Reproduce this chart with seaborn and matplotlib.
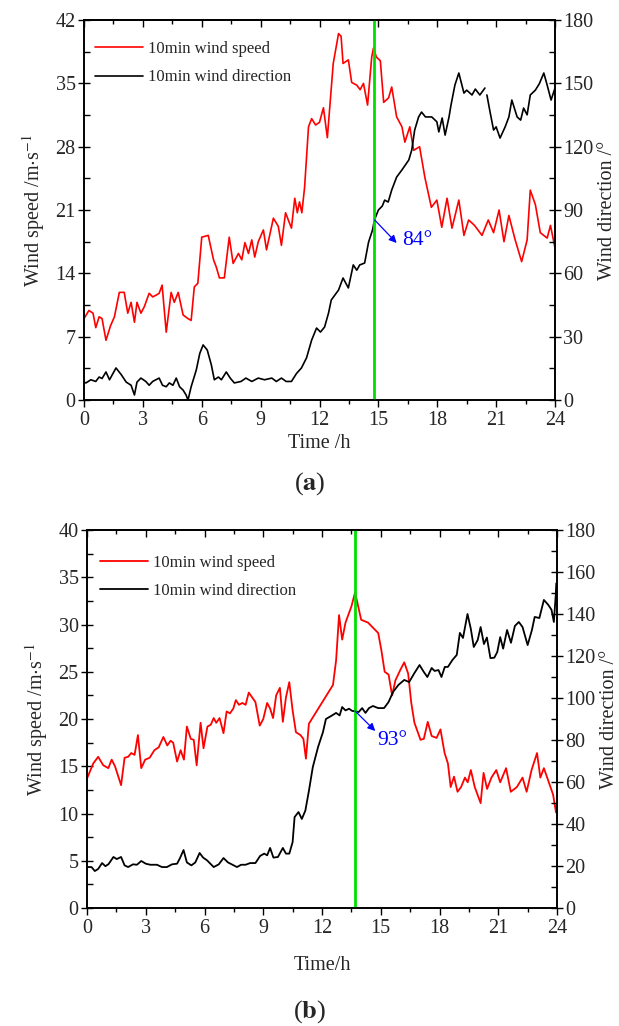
import numpy as np
import pandas as pd
import seaborn as sns
import matplotlib.pyplot as plt
from matplotlib.ticker import MultipleLocator

sns.set_theme(style="white")
plt.rcParams['font.family'] = ['Liberation Serif', 'DejaVu Serif']
plt.rcParams['mathtext.fontset'] = 'stix'

# ---- panel (a): 10 min wind speed / direction ----
a_speed_t = [0.0, 0.25, 0.46, 0.6, 0.77, 0.92, 1.12, 1.35, 1.55, 1.8, 2.05, 2.23, 2.4, 2.57, 2.7, 2.9,
             3.07, 3.32, 3.5, 3.68, 3.83, 3.98, 4.19, 4.44, 4.6, 4.8, 5.05, 5.3, 5.46, 5.62, 5.8, 6.0,
             6.33, 6.6, 6.74, 6.9, 7.15, 7.4, 7.6, 7.87, 8.04, 8.2, 8.38, 8.55, 8.7, 8.88, 9.14, 9.3,
             9.65, 9.9, 10.06, 10.27, 10.57, 10.74, 10.87, 10.98, 11.1, 11.24, 11.44, 11.6, 11.8, 12.0,
             12.2, 12.4, 12.7, 12.97, 13.1, 13.2, 13.47, 13.64, 13.9, 14.07, 14.24, 14.45, 14.66, 14.75,
             14.9, 15.1, 15.27, 15.52, 15.68, 15.93, 16.2, 16.35, 16.6, 16.8, 17.1, 17.37, 17.7, 17.98,
             18.23, 18.5, 18.75, 19.1, 19.36, 19.6, 19.9, 20.28, 20.6, 20.87, 21.15, 21.4, 21.65, 21.97,
             22.3, 22.58, 22.74, 23.0, 23.25, 23.6, 23.77, 24.0]
a_speed_v = [9.0, 9.9, 9.6, 8.0, 9.2, 9.0, 6.6, 8.2, 9.2, 11.9, 11.9, 9.6, 10.8, 8.6, 10.8, 9.6,
             10.3, 11.8, 11.4, 11.6, 11.8, 12.7, 7.5, 11.9, 10.8, 11.9, 9.4, 9.0, 8.8, 12.5, 12.9, 18.0,
             18.2, 15.5, 14.7, 13.5, 13.5, 18.0, 15.1, 16.2, 15.5, 17.4, 16.2, 17.7, 15.8, 17.5, 18.8, 16.6,
             20.1, 19.2, 17.1, 20.7, 19.0, 22.3, 20.7, 21.9, 20.7, 23.5, 30.2, 31.1, 30.4, 30.7,
             32.3, 29.0, 37.2, 40.5, 40.2, 37.2, 37.6, 35.1, 34.8, 34.3, 35.0, 32.6, 37.9, 38.9,
             37.9, 37.5, 32.9, 33.4, 34.6, 31.3, 30.2, 28.5, 30.2, 27.6, 28.0, 24.6, 21.3, 22.1,
             19.1, 22.3, 19.0, 22.1, 18.2, 19.9, 19.3, 18.2, 19.9, 18.5, 21.0, 17.5, 20.4, 17.7,
             15.3, 17.7, 23.2, 21.6, 18.5, 17.9, 19.3, 16.8]

a_dir_t = [0.0, 0.1, 0.35, 0.6, 0.77, 0.92, 1.12, 1.3, 1.63, 1.9, 2.15, 2.4, 2.57, 2.7, 2.9, 3.15,
           3.32, 3.5, 3.66, 3.83, 4.0, 4.19, 4.35, 4.53, 4.7, 4.87, 5.05, 5.2, 5.3, 5.46, 5.72, 5.9,
           6.07, 6.28, 6.49, 6.64, 6.85, 7.0, 7.25, 7.45, 7.66, 8.0, 8.25, 8.55, 8.88, 9.2, 9.57, 9.8,
           10.06, 10.3, 10.57, 10.83, 11.08, 11.34, 11.6, 11.85, 12.05, 12.26, 12.46, 12.6, 12.97, 13.2,
           13.47, 13.72, 13.9, 14.05, 14.3, 14.5, 14.7, 14.8, 15.0, 15.2, 15.32, 15.5, 15.68, 15.93,
           16.2, 16.55, 16.7, 16.85, 17.05, 17.2, 17.4, 17.72, 17.98, 18.08, 18.25, 18.4, 18.6, 18.7,
           18.9, 19.1, 19.36, 19.5, 19.77, 19.94, 20.17, 20.43,
           20.53, 20.7, 20.87, 21.0, 21.2, 21.46, 21.65, 21.8, 22.07, 22.25, 22.4, 22.58, 22.74, 23.0,
           23.2, 23.43, 23.6, 23.8, 24.0]
a_dir_v = [8.5, 8.1, 9.6, 8.8, 10.9, 10.2, 13.3, 9.6, 15.2, 12.0, 8.5, 7.0, 2.4, 8.5, 10.4, 8.8,
           7.0, 8.8, 9.6, 10.4, 7.0, 6.3, 8.1, 7.0, 10.4, 6.3, 4.7, 2.4, 0.0, 6.3, 14.2, 22.1,
           26.1, 23.7, 16.6, 9.6, 10.9, 9.6, 13.3, 10.4, 8.1, 8.8, 10.4, 8.8, 10.4, 9.6, 10.4, 8.8,
           10.4, 8.8, 8.8, 12.6, 15.2, 20.0, 28.4, 34.1, 32.2, 34.6, 41.2, 47.4, 52.1, 57.8,
           53.1, 64.0, 61.5, 64.0, 64.9, 74.8, 80.5, 85.3, 90.0, 91.9, 94.7, 93.8, 99.5, 105.6,
           109.0, 113.7, 118.4, 127.9, 134.1, 136.4, 134.1, 134.1, 131.8, 127.0, 133.6, 125.5, 134.1, 139.7,
           149.2, 154.9, 145.4, 146.8, 144.5, 147.3, 144.5, 147.8,
           144.5, 136.0, 127.9, 129.4, 124.1, 129.4, 134.1, 142.1, 134.1, 132.6, 138.3, 135.1, 144.5, 146.8,
           149.8, 154.9, 149.2, 142.1, 147.8]
# the recorded direction has a short gap near 20.5 h
a_dir_seg = [0] * 98 + [1] * 19

# ---- panel (b) ----
b_speed_t = [0.0, 0.32, 0.57, 0.83, 1.09, 1.26, 1.43, 1.74, 1.92, 2.1, 2.26, 2.43, 2.6, 2.77, 2.97, 3.2,
             3.44, 3.66, 3.9, 4.1, 4.27, 4.4, 4.6, 4.78, 4.95, 5.1, 5.3, 5.45, 5.6, 5.8, 5.95, 6.15,
             6.32, 6.47, 6.6, 6.77, 6.97, 7.13, 7.3, 7.47, 7.6, 7.76, 7.93, 8.1, 8.26, 8.43, 8.6, 8.82,
             9.0, 9.2, 9.35, 9.5, 9.66, 9.85, 10.0, 10.16, 10.33, 10.5, 10.67, 10.9, 11.05, 11.18, 11.33,
             12.56, 12.72, 12.87, 13.03, 13.2, 13.5, 13.69, 14.0, 14.35, 14.87, 15.03, 15.2, 15.4, 15.58,
             15.75, 16.0, 16.2, 16.4, 16.56, 16.72, 17.03, 17.2, 17.4, 17.6, 17.85, 18.05, 18.26, 18.43,
             18.57, 18.74, 18.92, 19.1, 19.3, 19.44, 19.6, 19.8, 20.1, 20.25, 20.43, 20.65, 20.9, 21.1,
             21.4, 21.64, 21.95, 22.24, 22.45, 22.7, 22.98, 23.15, 23.33, 23.6, 23.8, 23.95, 24.0]
b_speed_v = [13.7, 15.3, 16.0, 15.1, 14.8, 15.7, 15.0, 13.0, 15.9, 16.0, 16.4, 16.2, 18.3, 14.8, 15.7, 15.9,
             16.7, 17.0, 18.1, 17.2, 17.7, 17.5, 15.5, 16.7, 15.7, 19.2, 17.9, 17.8, 15.1, 19.6, 16.9, 19.2,
             19.4, 20.1, 19.6, 20.1, 18.5, 20.8, 20.6, 21.1, 22.0, 21.5, 21.7, 21.5, 22.8, 22.3, 21.8, 19.3,
             20.0, 21.7, 21.1, 20.1, 22.5, 23.3, 19.7, 22.3, 23.9, 20.9, 18.6, 18.3, 17.9, 15.8, 19.5,
             23.6, 26.2, 31.0, 28.4, 30.2, 31.9, 33.4, 30.5, 30.2, 29.1, 27.3, 25.0, 24.7, 22.5,
             24.1, 25.2, 26.0, 24.8, 21.7, 19.6, 17.8, 17.9, 19.7, 18.2, 18.0, 18.9, 16.4, 15.3,
             12.8, 13.9, 12.3, 12.8, 13.8, 13.3, 14.6, 12.8, 11.1, 14.3, 12.6, 13.8, 14.6, 13.3,
             14.8, 12.3, 12.8, 13.8, 12.3, 14.6, 16.4, 13.8, 14.8, 13.2, 12.0, 10.1, 11.2]

b_dir_t = [0.0, 0.23, 0.4, 0.57, 0.77, 0.94, 1.1, 1.35, 1.52, 1.74, 1.92, 2.1, 2.35, 2.55, 2.77, 3.0,
           3.23, 3.57, 3.83, 4.08, 4.34, 4.6, 4.75, 4.93, 5.1, 5.33, 5.53, 5.75, 5.93, 6.13, 6.3, 6.47,
           6.73, 6.97, 7.2, 7.43, 7.66, 7.87, 8.1, 8.33, 8.6, 8.84, 9.05, 9.2, 9.35, 9.52, 9.75, 10.0,
           10.16, 10.33, 10.5, 10.6, 10.8, 10.97, 11.15, 11.33, 11.53, 11.8, 12.05, 12.2, 12.46, 12.72,
           12.9, 13.03, 13.2, 13.38, 13.55, 13.69, 13.87, 14.05, 14.22, 14.4, 14.6, 14.87, 15.17, 15.4,
           15.63, 15.9, 16.2, 16.45, 16.72, 16.98, 17.2, 17.38, 17.6, 17.75, 17.95, 18.1, 18.27, 18.43,
           18.66, 18.88, 19.04, 19.2, 19.43, 19.6, 19.75, 19.95, 20.1, 20.27, 20.42, 20.6, 20.8, 20.95,
           21.1, 21.25, 21.45, 21.65, 21.85, 22.05, 22.24, 22.5, 22.72, 22.86, 23.1, 23.33, 23.55, 23.72,
           23.84, 23.98, 24.0]
b_dir_v = [19.5, 19.5, 17.6, 18.6, 21.4, 19.9, 20.9, 24.3, 23.3, 24.3, 20.3, 19.5, 20.8, 20.6, 22.4, 21.1,
           20.6, 20.6, 19.5, 19.5, 20.8, 21.1, 23.8, 27.6, 21.7, 20.3, 21.7, 26.2, 24.0, 22.7, 21.1, 19.5,
           20.8, 23.8, 21.7, 20.6, 19.5, 20.6, 20.6, 21.4, 21.4, 24.8, 25.9, 25.1, 28.6, 24.0, 24.3, 28.6,
           25.9, 25.9, 31.4, 43.3, 45.7, 42.4, 46.4, 55.7, 67.1, 76.7, 83.8, 90.0, 91.4, 92.9,
           91.7, 95.7, 94.1, 94.9, 93.8, 93.8, 93.3, 95.2, 92.9, 95.2, 96.2, 95.2, 95.2, 98.1,
           102.9, 106.2, 108.6, 107.6, 111.9, 115.7, 112.4, 110.0, 114.3, 112.9, 113.3, 110.0, 114.8, 114.8,
           118.1, 120.5, 131.0, 128.6, 140.0, 132.9, 124.3, 127.6, 133.8, 125.7, 128.8, 119.0, 119.2, 121.9,
           129.0, 123.5, 132.4, 126.3, 134.3, 136.2, 133.8, 125.2, 132.4, 138.6, 138.1, 146.7, 144.4, 142.0,
           136.2, 154.8, 146.7]
b_dir_seg = [0] * len(b_dir_t)

# marked instant and direction reading
a_mark_t, a_mark_deg = 14.76, "84°"
b_mark_t, b_mark_deg = 13.69, "93°"

fig = plt.figure(figsize=(6.19, 10.26), dpi=100)


def panel(rect, sp_t, sp_v, d_t, d_v, d_seg, ymax, ystep, dstep, mark_t, mark_txt,
          arrow_xy, arrow_end, txt_xy, xlabel, xlabelpad, leg_anchor, lw):
    ax = fig.add_axes(rect)
    ax2 = ax.twinx()

    sns.lineplot(x=sp_t, y=sp_v, ax=ax, color="#ff0000", lw=lw, estimator=None, sort=False)
    dfd = pd.DataFrame({"t": d_t, "d": d_v, "seg": d_seg})
    sns.lineplot(data=dfd, x="t", y="d", units="seg", estimator=None, ax=ax2,
                 color="black", lw=lw, sort=False)
    ax2.axvline(mark_t, color="#00e000", lw=2)

    ax2.annotate("", xy=arrow_end, xytext=arrow_xy,
                 arrowprops=dict(arrowstyle="-|>", color="blue", lw=0.9,
                                 shrinkA=0, shrinkB=0, mutation_scale=11))
    ax2.text(txt_xy[0], txt_xy[1], mark_txt, color="blue", fontsize=15.5, va="center", ha="left")

    ax.set_xlim(0, 24)
    ax.set_ylim(0, ymax)
    ax2.set_ylim(0, 180)
    ax.xaxis.set_major_locator(MultipleLocator(3))
    ax.xaxis.set_minor_locator(MultipleLocator(1.5))
    ax.yaxis.set_major_locator(MultipleLocator(ystep))
    ax.yaxis.set_minor_locator(MultipleLocator(ystep / 2))
    ax2.yaxis.set_major_locator(MultipleLocator(dstep))
    ax2.yaxis.set_minor_locator(MultipleLocator(dstep / 2))

    ax.tick_params(axis="x", which="both", bottom=True, top=False, direction="out",
                   labelsize=14.5, color="black", pad=3)
    ax.tick_params(axis="x", which="major", length=5, width=1)
    ax.tick_params(axis="x", which="minor", length=3, width=1)
    ax.tick_params(axis="y", which="both", left=True, right=False, labelsize=14.5,
                   color="black", pad=2)
    ax.tick_params(axis="y", which="major", direction="inout", length=8, width=1)
    ax.tick_params(axis="y", which="minor", direction="in", length=4, width=1)
    ax2.tick_params(axis="y", which="both", right=True, left=False, labelsize=14.5,
                    color="black", pad=2)
    ax2.tick_params(axis="y", which="major", direction="inout", length=8, width=1)
    ax2.tick_params(axis="y", which="minor", direction="in", length=4, width=1)

    top = ax.secondary_xaxis("top")
    top.xaxis.set_major_locator(MultipleLocator(3))
    top.xaxis.set_minor_locator(MultipleLocator(1.5))
    top.tick_params(which="both", direction="in", labeltop=False, color="black", width=1)
    top.tick_params(which="major", length=5)
    top.tick_params(which="minor", length=3)
    top.spines["top"].set_linewidth(1.2)
    top.spines["top"].set_color("black")

    for a in (ax, ax2):
        for s in a.spines.values():
            s.set_color("black")
            s.set_linewidth(1.2)

    ax.set_xlabel(xlabel, fontsize=14.5, labelpad=xlabelpad)
    ax.set_ylabel(r"Wind speed /m$\cdot$s$^{-1}$", fontsize=14.5, labelpad=6)
    ax2.set_ylabel("Wind direction /°", fontsize=14.5, labelpad=3)

    handles = [ax.lines[0], ax2.lines[0]]
    ax.legend(handles, ["10min wind speed", "10min wind direction"], loc="upper left",
              bbox_to_anchor=leg_anchor, frameon=False, fontsize=12, handlelength=2.9,
              handletextpad=0.3, labelspacing=0.75, borderpad=0, borderaxespad=0)
    return ax, ax2


panel([84 / 619, 0.6101, 471 / 619, 380 / 1026], a_speed_t, a_speed_v, a_dir_t, a_dir_v, a_dir_seg,
      42, 7, 30, a_mark_t, a_mark_deg, (14.81, 85.3), (15.93, 74.4), (16.19, 75.8),
      "Time /h", 3, (0.023, 0.945), 1.2)

panel([87 / 619, 0.1150, 470 / 619, 378 / 1026], b_speed_t, b_speed_v, b_dir_t, b_dir_v, b_dir_seg,
      40, 5, 20, b_mark_t, b_mark_deg, (13.69, 93.8), (14.72, 84.3), (14.82, 80.0),
      "Time/h", 13, (0.028, 0.935), 1.3)

fig.text(0.5, 0.529, r"($\mathbf{a}$)", ha="center", va="center", fontsize=19)
fig.text(0.5, 0.0136, r"($\mathbf{b}$)", ha="center", va="center", fontsize=19)

fig.savefig("out.png", dpi=100)
